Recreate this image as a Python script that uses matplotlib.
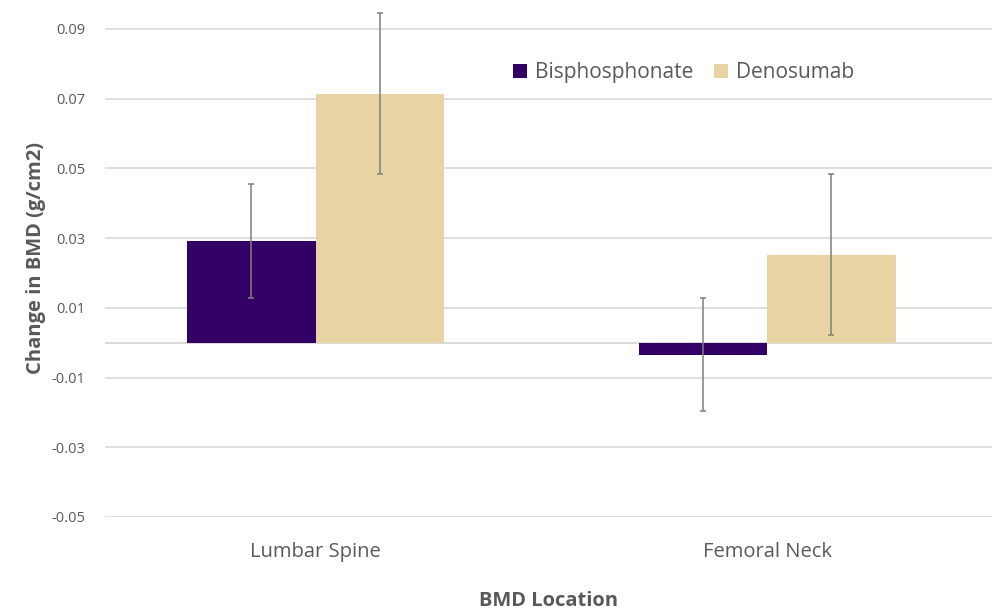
import numpy as np
import matplotlib
matplotlib.use("Agg")
import matplotlib.pyplot as plt

plt.rcParams['font.family'] = ['Open Sans', 'DejaVu Sans']

locations = ["Lumbar Spine", "Femoral Neck"]
bisphosphonate = [0.0291, -0.0034]
bisphosphonate_err = [0.0163, 0.0163]
denosumab = [0.0714, 0.0252]
denosumab_err = [0.0231, 0.0231]
yticks = [-0.05, -0.03, -0.01, 0.01, 0.03, 0.05, 0.07, 0.09]

tick_gray = '#595959'
grid_gray = '#d9d9d9'

fig = plt.figure(figsize=(9.92, 6.11), dpi=100)
ax = fig.add_axes([105 / 992, 94 / 611, 887 / 992, 517 / 611])

x = np.arange(len(locations))
w = 0.2846
err_kw = dict(ecolor='#7f7f7f', elinewidth=1.1, capsize=2.5, capthick=1.1)

ax.bar(x - w / 2, bisphosphonate, width=w, color='#330066',
       yerr=bisphosphonate_err, error_kw=err_kw, label='Bisphosphonate', zorder=3)
ax.bar(x + w / 2, denosumab, width=w, color='#e8d3a2',
       yerr=denosumab_err, error_kw=err_kw, label='Denosumab', zorder=3)

ax.set_xlim(-0.4667, 1.498)
ax.set_ylim(-0.05, 0.0983)
ax.set_yticks(yticks)
ax.set_yticklabels([f"{v:.2f}" for v in yticks])
ax.yaxis.grid(True, color=grid_gray, linewidth=1.2, zorder=0)
ax.axhline(0, color=grid_gray, linewidth=1.4, zorder=1)

for s in ax.spines.values():
    s.set_visible(False)

ax.tick_params(axis='y', length=0, pad=14, labelsize=10.5, labelcolor=tick_gray)
ax.set_xticks(x)
ax.set_xticklabels(locations)
ax.tick_params(axis='x', length=0, pad=18, labelsize=14.5, labelcolor=tick_gray)

ax.set_xlabel("BMD Location", fontsize=14.5, fontweight='bold', color=tick_gray, labelpad=21)
ax.set_ylabel("Change in BMD (g/cm2)", fontsize=14.5, fontweight='bold', color=tick_gray, labelpad=4)

leg = ax.legend(loc='center', bbox_to_anchor=(0.652, 0.859), ncol=2, frameon=False,
                fontsize=15, handlelength=0.7, handleheight=0.7, handletextpad=0.35,
                columnspacing=1.0)
for t in leg.get_texts():
    t.set_color(tick_gray)

fig.savefig("out.png", dpi=100)
